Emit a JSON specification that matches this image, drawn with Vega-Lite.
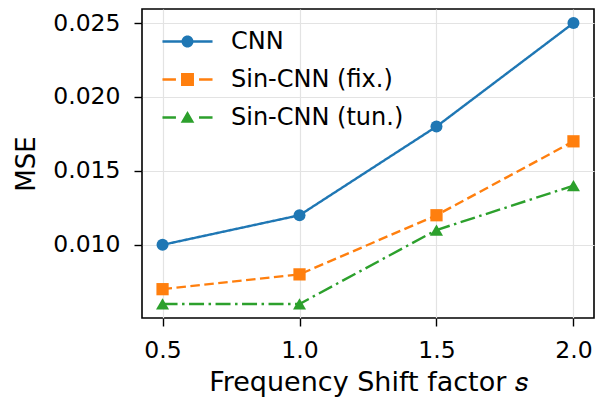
{
  "$schema": "https://vega.github.io/schema/vega-lite/v6.json",
  "width": 452,
  "height": 309,
  "autosize": {"type": "none"},
  "padding": {"left": 142, "top": 9, "right": 9, "bottom": 79},
  "background": "white",
  "config": {
    "font": "DejaVu Sans",
    "view": {"stroke": "black", "strokeWidth": 1.6},
    "axis": {
      "labelFont": "DejaVu Sans", "titleFont": "DejaVu Sans",
      "labelFontSize": 23.5, "titleFontSize": 26, "titleFontWeight": "normal",
      "labelColor": "black", "titleColor": "black",
      "tickColor": "black", "tickSize": 8, "tickWidth": 1.4,
      "domain": false,
      "gridColor": "#e3e3e3", "gridWidth": 1.2, "gridOpacity": 1
    }
  },
  "data": {"values": [
    {"s": 0.5, "mse": 0.010, "series": "CNN"},
    {"s": 1.0, "mse": 0.012, "series": "CNN"},
    {"s": 1.5, "mse": 0.018, "series": "CNN"},
    {"s": 2.0, "mse": 0.025, "series": "CNN"},
    {"s": 0.5, "mse": 0.007, "series": "Sin-CNN (fix.)"},
    {"s": 1.0, "mse": 0.008, "series": "Sin-CNN (fix.)"},
    {"s": 1.5, "mse": 0.012, "series": "Sin-CNN (fix.)"},
    {"s": 2.0, "mse": 0.017, "series": "Sin-CNN (fix.)"},
    {"s": 0.5, "mse": 0.006, "series": "Sin-CNN (tun.)"},
    {"s": 1.0, "mse": 0.006, "series": "Sin-CNN (tun.)"},
    {"s": 1.5, "mse": 0.011, "series": "Sin-CNN (tun.)"},
    {"s": 2.0, "mse": 0.014, "series": "Sin-CNN (tun.)"}
  ]},
  "encoding": {
    "x": {
      "field": "s", "type": "quantitative",
      "scale": {"domain": [0.425, 2.075], "nice": false, "zero": false},
      "axis": {"values": [0.5, 1.0, 1.5, 2.0], "format": ".1f", "labelPadding": 12,
        "title": "Frequency Shift factor 𝑠", "titlePadding": 8, "titleFontSize": 27}
    },
    "y": {
      "field": "mse", "type": "quantitative",
      "scale": {"domain": [0.00505, 0.02595], "nice": false, "zero": false},
      "axis": {"values": [0.010, 0.015, 0.020, 0.025], "format": ".3f", "labelPadding": 14,
        "title": "MSE", "titlePadding": 13}
    }
  },
  "layer": [
    {
      "mark": {"type": "line", "strokeWidth": 2.4},
      "encoding": {
        "stroke": {
          "field": "series", "type": "nominal",
          "scale": {"range": ["#1f77b4", "#ff7f0e", "#2ca02c"]},
          "legend": null
        },
        "strokeDash": {
          "field": "series", "type": "nominal",
          "scale": {"range": [[1, 0], [9.5, 4.5], [15, 4.5, 2.5, 4.5]]},
          "legend": null
        }
      }
    },
    {
      "transform": [{"filter": "datum.series == 'CNN'"}],
      "mark": {"type": "point", "filled": true, "opacity": 1, "size": 144, "shape": "circle", "color": "#1f77b4"}
    },
    {
      "transform": [{"filter": "datum.series == 'Sin-CNN (fix.)'"}],
      "mark": {"type": "point", "filled": true, "opacity": 1, "size": 150, "shape": "square", "color": "#ff7f0e"}
    },
    {
      "transform": [{"filter": "datum.series == 'Sin-CNN (tun.)'"}],
      "mark": {"type": "point", "filled": true, "opacity": 1, "size": 170, "shape": "triangle-up", "color": "#2ca02c"}
    },
    {
      "transform": [{"filter": "datum.s > 100"}],
      "mark": {"type": "point", "filled": true, "opacity": 1},
      "encoding": {
        "color": {
          "field": "series", "type": "nominal",
          "scale": {"domain": ["CNN", "Sin-CNN (fix.)", "Sin-CNN (tun.)"], "range": ["#1f77b4", "#ff7f0e", "#2ca02c"]},
          "legend": {
            "title": null, "orient": "top-left", "offset": 15, "padding": 0,
            "symbolSize": 1225, "symbolStrokeWidth": 0, "symbolOffset": 13, "symbolOpacity": 1,
            "labelFontSize": 24, "labelFont": "DejaVu Sans", "labelColor": "black", "labelLimit": 400,
            "labelOffset": 26, "rowPadding": 8
          }
        },
        "shape": {
          "field": "series", "type": "nominal",
          "scale": {"domain": ["CNN", "Sin-CNN (fix.)", "Sin-CNN (tun.)"], "range": [
            "M-1.43,-0.066H-0.3V0.066H-1.43Z M0.3,-0.066H1.43V0.066H0.3Z M0.343,0A0.343,0.343 0 1,1 -0.343,0A0.343,0.343 0 1,1 0.343,0Z",
            "M-1.43,-0.066H-0.66V0.066H-1.43Z M0.66,-0.066H1.43V0.066H0.66Z M-0.37,-0.37H0.37V0.37H-0.37Z",
            "M-1.43,-0.066H-0.66V0.066H-1.43Z M0.66,-0.066H1.43V0.066H0.66Z M0,-0.37L0.39,0.3H-0.39Z"
          ]},
          "legend": {
            "title": null, "orient": "top-left", "offset": 15, "padding": 0,
            "symbolSize": 1225, "symbolStrokeWidth": 0, "symbolOffset": 13, "symbolOpacity": 1,
            "labelFontSize": 24, "labelFont": "DejaVu Sans", "labelColor": "black", "labelLimit": 400,
            "labelOffset": 26, "rowPadding": 8
          }
        }
      }
    }
  ]
}
